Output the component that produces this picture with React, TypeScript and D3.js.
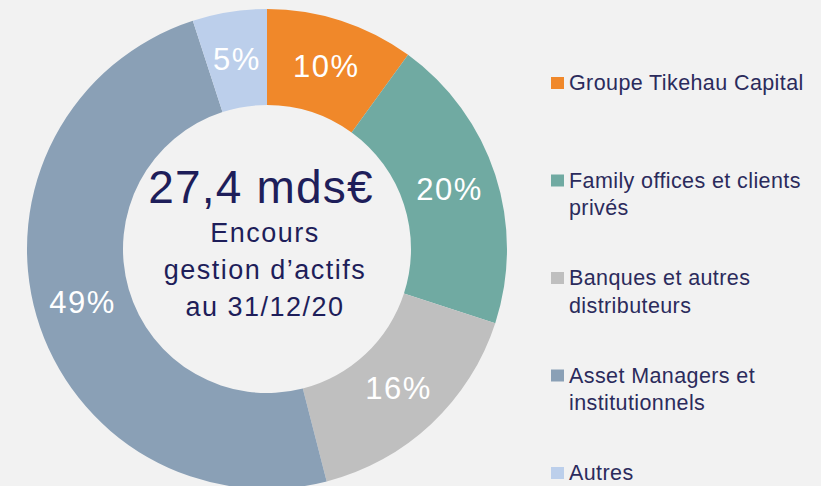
import React from "react";
import * as d3 from "d3";

const categories = [
  "Groupe Tikehau Capital",
  "Family offices et clients privés",
  "Banques et autres distributeurs",
  "Asset Managers et institutionnels",
  "Autres",
];
const legendLines = [
  ["Groupe Tikehau Capital"],
  ["Family offices et clients", "privés"],
  ["Banques et autres", "distributeurs"],
  ["Asset Managers et", "institutionnels"],
  ["Autres"],
];
const values = [10, 20, 16, 49, 5];
const colors = ["#f0882a", "#70aaa2", "#bfbfbf", "#8aa0b6", "#bccfeb"];
const centerTitle = "27,4 mds€";
const centerLines = ["Encours", "gestion d’actifs", "au 31/12/20"];

const W = 821;
const H = 486;
const FONT = "'Liberation Sans', Arial, Helvetica, sans-serif";

export default function App() {
  const cx = 267;
  const cy = 249;
  const outerR = 240;
  const innerR = 144;

  const pie = d3
    .pie<number>()
    .sort(null)
    .value((d) => d);
  const arcs = pie(values);
  const arc = d3
    .arc<d3.PieArcDatum<number>>()
    .innerRadius(innerR)
    .outerRadius(outerR);

  const legendX = 551;
  const legendY0 = 90;
  const legendStep = 97.5;
  const lineH = 27.5;

  return (
    <svg
      width={W}
      height={H}
      style={{ position: "absolute", left: 0, top: 0, display: "block" }}
    >
      <rect x={0} y={0} width={W} height={H} fill="#f2f2f2" />
      <g transform={`translate(${cx},${cy})`}>
        {arcs.map((a, i) => (
          <path key={categories[i]} d={arc(a) || ""} fill={colors[i]} />
        ))}
        {arcs.map((a, i) => {
          const [x, y] = arc.centroid(a);
          return (
            <text
              key={"l" + i}
              x={x}
              y={y}
              textAnchor="middle"
              dominantBaseline="central"
              fill="#ffffff"
              fontFamily={FONT}
              fontSize={31}
              letterSpacing={1.5}
            >
              {values[i]}%
            </text>
          );
        })}
        <text
          x={-6}
          y={-46}
          textAnchor="middle"
          fill="#1e1e5a"
          fontFamily={FONT}
          fontSize={46}
          letterSpacing={1.2}
        >
          {centerTitle}
        </text>
        {centerLines.map((t, i) => (
          <text
            key={t}
            x={-2}
            y={-7 + i * 37}
            textAnchor="middle"
            fill="#1e1e5a"
            fontFamily={FONT}
            fontSize={27}
            letterSpacing={1.5}
          >
            {t}
          </text>
        ))}
      </g>
      {legendLines.map((lines, i) => {
        const by = legendY0 + i * legendStep;
        return (
          <g key={"lg" + i}>
            <rect x={legendX} y={by - 13} width={13} height={12} fill={colors[i]} />
            {lines.map((t, j) => (
              <text
                key={t}
                x={legendX + 18}
                y={by + j * lineH}
                fill="#2b2b5c"
                fontFamily={FONT}
                fontSize={21.5}
                letterSpacing={0.4}
              >
                {t}
              </text>
            ))}
          </g>
        );
      })}
    </svg>
  );
}
